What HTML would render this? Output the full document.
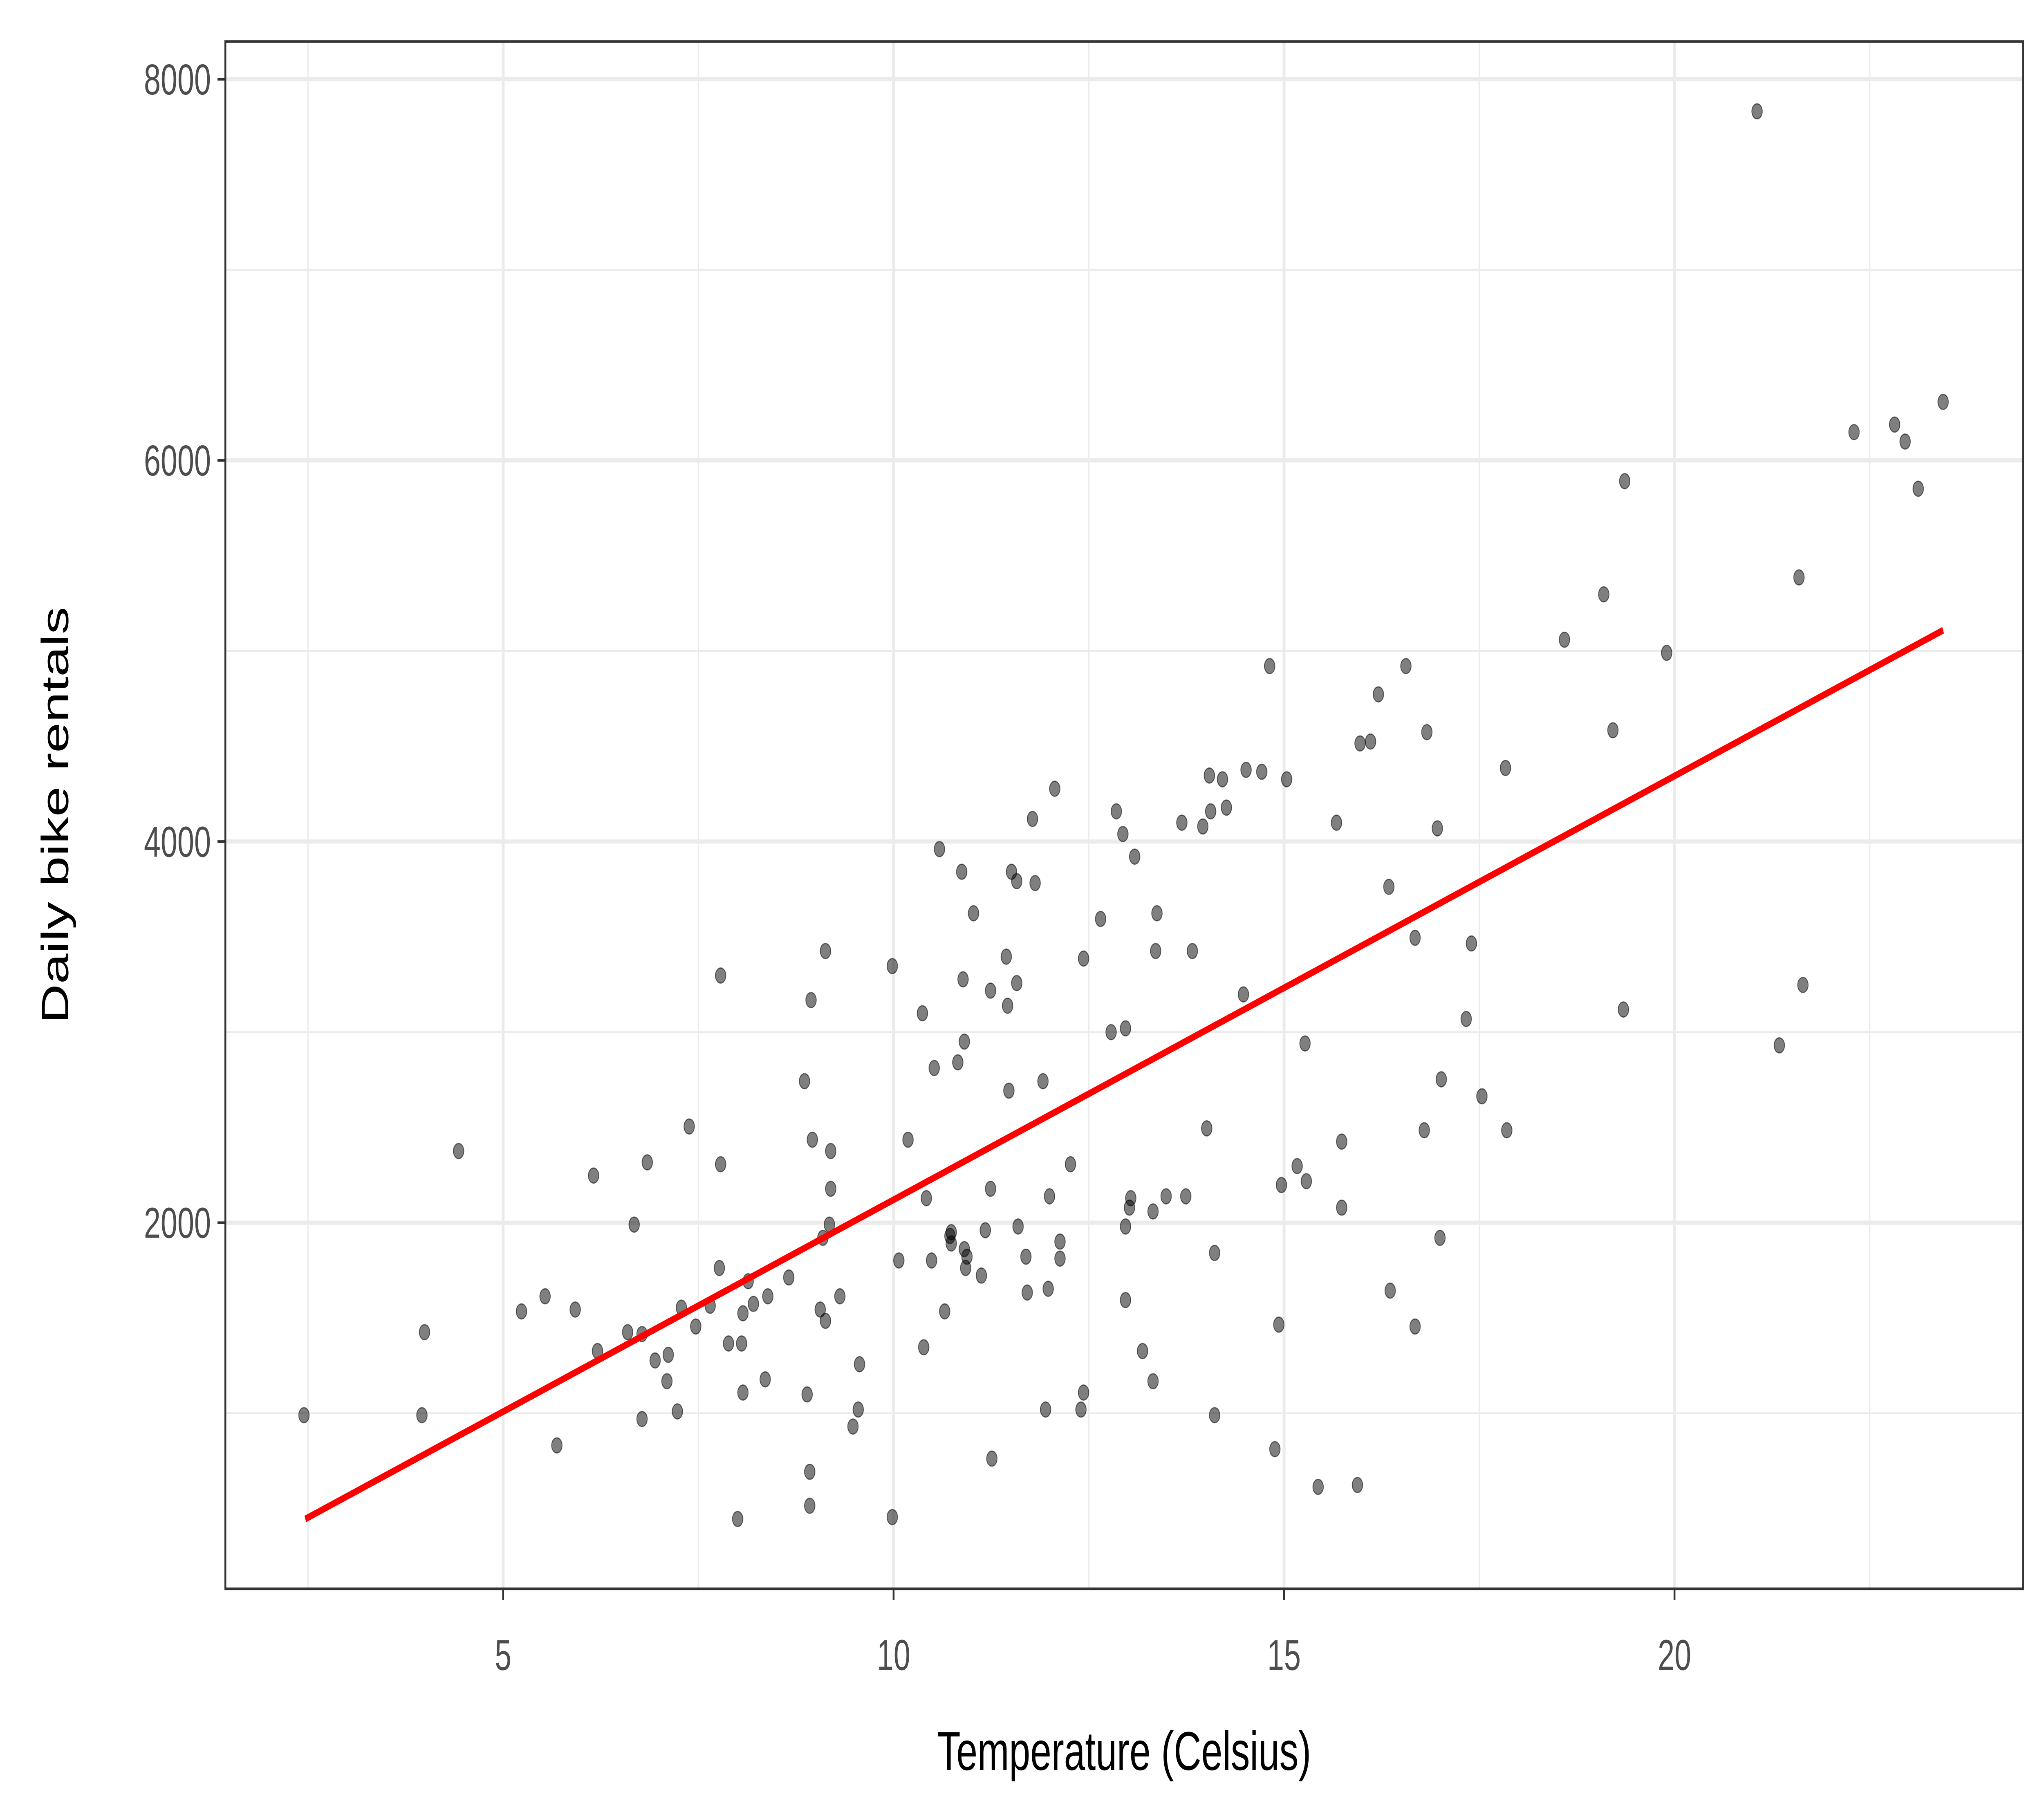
<!DOCTYPE html>
<html><head><meta charset="utf-8"><style>html,body{margin:0;padding:0;background:#fff;width:100%;height:100%;overflow:hidden}svg{display:block;position:absolute;left:0;top:0;width:100vw;height:100vh}</style></head>
<body>
<svg viewBox="0 0 1560 964" preserveAspectRatio="none" xmlns="http://www.w3.org/2000/svg" font-family="Liberation Sans, sans-serif">
<rect width="1560" height="964" fill="#fff"/>
<g stroke="#ebebeb" stroke-width="1">
<line x1="172" x2="1544" y1="143" y2="143"/><line x1="172" x2="1544" y1="345" y2="345"/><line x1="172" x2="1544" y1="547" y2="547"/><line x1="172" x2="1544" y1="749" y2="749"/>
<line y1="22" y2="842" x1="235" x2="235"/><line y1="22" y2="842" x1="533" x2="533"/><line y1="22" y2="842" x1="831" x2="831"/><line y1="22" y2="842" x1="1129" x2="1129"/><line y1="22" y2="842" x1="1427" x2="1427"/>
</g>
<g stroke="#ebebeb" stroke-width="2.2">
<line x1="172" x2="1544" y1="42" y2="42"/><line x1="172" x2="1544" y1="244" y2="244"/><line x1="172" x2="1544" y1="446" y2="446"/><line x1="172" x2="1544" y1="648" y2="648"/>
<line y1="22" y2="842" x1="384" x2="384"/><line y1="22" y2="842" x1="682" x2="682"/><line y1="22" y2="842" x1="980" x2="980"/><line y1="22" y2="842" x1="1278" x2="1278"/>
</g>
<g fill="#000" fill-opacity="0.5" stroke="#000" stroke-opacity="0.55" stroke-width="0.6">
<circle cx="232" cy="750" r="4"/><circle cx="324" cy="706" r="4"/><circle cx="322" cy="750" r="4"/><circle cx="350" cy="610" r="4"/><circle cx="398" cy="695" r="4"/><circle cx="416" cy="687" r="4"/><circle cx="425" cy="766" r="4"/><circle cx="439" cy="694" r="4"/><circle cx="453" cy="623" r="4"/><circle cx="456" cy="716" r="4"/><circle cx="484" cy="649" r="4"/><circle cx="479" cy="706" r="4"/><circle cx="490" cy="707" r="4"/><circle cx="494" cy="616" r="4"/><circle cx="490" cy="752" r="4"/><circle cx="500" cy="721" r="4"/><circle cx="510" cy="718" r="4"/><circle cx="509" cy="732" r="4"/><circle cx="517" cy="748" r="4"/><circle cx="520" cy="693" r="4"/><circle cx="526" cy="597" r="4"/><circle cx="531" cy="703" r="4"/><circle cx="542" cy="692" r="4"/><circle cx="549" cy="672" r="4"/><circle cx="550" cy="517" r="4"/><circle cx="550" cy="617" r="4"/><circle cx="556" cy="712" r="4"/><circle cx="563" cy="805" r="4"/><circle cx="566" cy="712" r="4"/><circle cx="567" cy="696" r="4"/><circle cx="567" cy="738" r="4"/><circle cx="571" cy="679" r="4"/><circle cx="575" cy="691" r="4"/><circle cx="584" cy="731" r="4"/><circle cx="586" cy="687" r="4"/><circle cx="602" cy="677" r="4"/><circle cx="614" cy="573" r="4"/><circle cx="616" cy="739" r="4"/><circle cx="618" cy="780" r="4"/><circle cx="618" cy="798" r="4"/><circle cx="619" cy="530" r="4"/><circle cx="620" cy="604" r="4"/><circle cx="626" cy="694" r="4"/><circle cx="628" cy="656" r="4"/><circle cx="630" cy="504" r="4"/><circle cx="630" cy="700" r="4"/><circle cx="633" cy="649" r="4"/><circle cx="634" cy="610" r="4"/><circle cx="634" cy="630" r="4"/><circle cx="641" cy="687" r="4"/><circle cx="651" cy="756" r="4"/><circle cx="655" cy="747" r="4"/><circle cx="656" cy="723" r="4"/><circle cx="681" cy="512" r="4"/><circle cx="681" cy="804" r="4"/><circle cx="686" cy="668" r="4"/><circle cx="693" cy="604" r="4"/><circle cx="704" cy="537" r="4"/><circle cx="707" cy="635" r="4"/><circle cx="705" cy="714" r="4"/><circle cx="711" cy="668" r="4"/><circle cx="713" cy="566" r="4"/><circle cx="717" cy="450" r="4"/><circle cx="721" cy="695" r="4"/><circle cx="725" cy="655" r="4"/><circle cx="726" cy="659" r="4"/><circle cx="726" cy="653" r="4"/><circle cx="731" cy="563" r="4"/><circle cx="734" cy="462" r="4"/><circle cx="735" cy="519" r="4"/><circle cx="736" cy="552" r="4"/><circle cx="736" cy="662" r="4"/><circle cx="737" cy="672" r="4"/><circle cx="738" cy="666" r="4"/><circle cx="743" cy="484" r="4"/><circle cx="749" cy="676" r="4"/><circle cx="752" cy="652" r="4"/><circle cx="756" cy="525" r="4"/><circle cx="756" cy="630" r="4"/><circle cx="757" cy="773" r="4"/><circle cx="768" cy="507" r="4"/><circle cx="769" cy="533" r="4"/><circle cx="770" cy="578" r="4"/><circle cx="772" cy="462" r="4"/><circle cx="776" cy="467" r="4"/><circle cx="776" cy="521" r="4"/><circle cx="777" cy="650" r="4"/><circle cx="783" cy="666" r="4"/><circle cx="784" cy="685" r="4"/><circle cx="788" cy="434" r="4"/><circle cx="790" cy="468" r="4"/><circle cx="796" cy="573" r="4"/><circle cx="798" cy="747" r="4"/><circle cx="800" cy="683" r="4"/><circle cx="801" cy="634" r="4"/><circle cx="805" cy="418" r="4"/><circle cx="809" cy="658" r="4"/><circle cx="809" cy="667" r="4"/><circle cx="817" cy="617" r="4"/><circle cx="825" cy="747" r="4"/><circle cx="827" cy="738" r="4"/><circle cx="827" cy="508" r="4"/><circle cx="840" cy="487" r="4"/><circle cx="848" cy="547" r="4"/><circle cx="852" cy="430" r="4"/><circle cx="857" cy="442" r="4"/><circle cx="859" cy="545" r="4"/><circle cx="859" cy="650" r="4"/><circle cx="859" cy="689" r="4"/><circle cx="862" cy="640" r="4"/><circle cx="863" cy="635" r="4"/><circle cx="866" cy="454" r="4"/><circle cx="872" cy="716" r="4"/><circle cx="880" cy="642" r="4"/><circle cx="880" cy="732" r="4"/><circle cx="883" cy="484" r="4"/><circle cx="882" cy="504" r="4"/><circle cx="890" cy="634" r="4"/><circle cx="902" cy="436" r="4"/><circle cx="905" cy="634" r="4"/><circle cx="910" cy="504" r="4"/><circle cx="918" cy="438" r="4"/><circle cx="921" cy="598" r="4"/><circle cx="923" cy="411" r="4"/><circle cx="924" cy="430" r="4"/><circle cx="927" cy="664" r="4"/><circle cx="927" cy="750" r="4"/><circle cx="933" cy="413" r="4"/><circle cx="936" cy="428" r="4"/><circle cx="949" cy="527" r="4"/><circle cx="951" cy="408" r="4"/><circle cx="963" cy="409" r="4"/><circle cx="969" cy="353" r="4"/><circle cx="973" cy="768" r="4"/><circle cx="976" cy="702" r="4"/><circle cx="978" cy="628" r="4"/><circle cx="982" cy="413" r="4"/><circle cx="990" cy="618" r="4"/><circle cx="996" cy="553" r="4"/><circle cx="997" cy="626" r="4"/><circle cx="1006" cy="788" r="4"/><circle cx="1020" cy="436" r="4"/><circle cx="1024" cy="605" r="4"/><circle cx="1024" cy="640" r="4"/><circle cx="1036" cy="787" r="4"/><circle cx="1038" cy="394" r="4"/><circle cx="1046" cy="393" r="4"/><circle cx="1052" cy="368" r="4"/><circle cx="1060" cy="470" r="4"/><circle cx="1061" cy="684" r="4"/><circle cx="1073" cy="353" r="4"/><circle cx="1080" cy="497" r="4"/><circle cx="1080" cy="703" r="4"/><circle cx="1087" cy="599" r="4"/><circle cx="1089" cy="388" r="4"/><circle cx="1097" cy="439" r="4"/><circle cx="1099" cy="656" r="4"/><circle cx="1100" cy="572" r="4"/><circle cx="1119" cy="540" r="4"/><circle cx="1123" cy="500" r="4"/><circle cx="1131" cy="581" r="4"/><circle cx="1149" cy="407" r="4"/><circle cx="1150" cy="599" r="4"/><circle cx="1194" cy="339" r="4"/><circle cx="1224" cy="315" r="4"/><circle cx="1231" cy="387" r="4"/><circle cx="1239" cy="535" r="4"/><circle cx="1240" cy="255" r="4"/><circle cx="1272" cy="346" r="4"/><circle cx="1341" cy="59" r="4"/><circle cx="1358" cy="554" r="4"/><circle cx="1373" cy="306" r="4"/><circle cx="1376" cy="522" r="4"/><circle cx="1415" cy="229" r="4"/><circle cx="1446" cy="225" r="4"/><circle cx="1454" cy="234" r="4"/><circle cx="1464" cy="259" r="4"/><circle cx="1483" cy="213" r="4"/>
</g>
<line x1="233" y1="805" x2="1483" y2="334" stroke="#ff0000" stroke-width="3.6"/>
<rect x="172" y="22" width="1372" height="820" fill="none" stroke="#333" stroke-width="1.4"/>
<g stroke="#333" stroke-width="1.4">
<line x1="166" x2="172" y1="42" y2="42"/><line x1="166" x2="172" y1="244" y2="244"/><line x1="166" x2="172" y1="446" y2="446"/><line x1="166" x2="172" y1="648" y2="648"/>
<line y1="842" y2="848" x1="384" x2="384"/><line y1="842" y2="848" x1="682" x2="682"/><line y1="842" y2="848" x1="980" x2="980"/><line y1="842" y2="848" x1="1278" x2="1278"/>
</g>
<g fill="#4d4d4d" font-size="23" text-anchor="end">
<text x="161" y="50">8000</text><text x="161" y="252">6000</text><text x="161" y="454">4000</text><text x="161" y="656">2000</text>
</g>
<g fill="#4d4d4d" font-size="23" text-anchor="middle">
<text x="384" y="885">5</text><text x="682" y="885">10</text><text x="980" y="885">15</text><text x="1278" y="885">20</text>
</g>
<text x="858" y="938" font-size="29" text-anchor="middle" fill="#000">Temperature (Celsius)</text>
<text transform="translate(52,432) rotate(-90)" font-size="29" text-anchor="middle" fill="#000">Daily bike rentals</text>
</svg>
</body></html>
